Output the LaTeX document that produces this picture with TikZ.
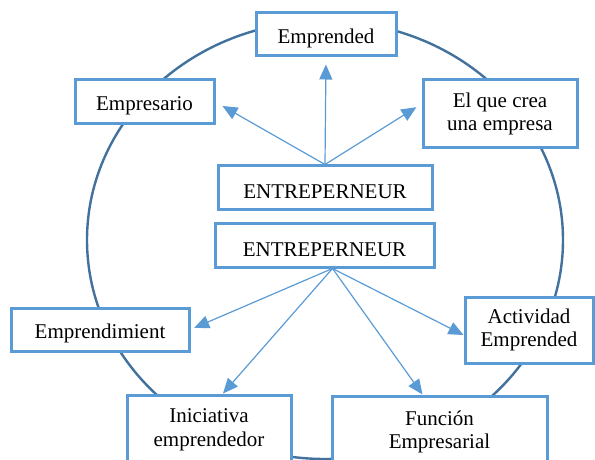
\documentclass[tikz,border=0pt]{standalone}
\usepackage{fontspec}
\setmainfont{Liberation Serif}
\usetikzlibrary{arrows.meta}
\definecolor{boxblue}{RGB}{91,155,213}
\definecolor{ringblue}{RGB}{65,113,156}

\begin{document}
\begin{tikzpicture}[x=0.5pt,y=-0.5pt,
    box/.style={draw=boxblue,line width=1.5pt,fill=white,align=center,inner sep=0pt,
      font=\fontsize{10.5}{11.8}\selectfont,execute at begin node={\rule{0pt}{11pt}}},
    link/.style={draw=boxblue,line width=0.6pt,-{Triangle[length=7.5pt,width=6.5pt]}}]
  \useasboundingbox (0,0) rectangle (595,460);
  \draw[ringblue,line width=1.2pt] (325,240) ellipse [x radius=119pt,y radius=109.5pt];
  % upper fan
  \node[box,minimum width=70pt,minimum height=21.5pt] (emprended) at (326,34.5) {Emprended};
  \node[box,minimum width=69.5pt,minimum height=22pt] (empresario) at (144.5,102) {Empresario};
  \node[box,minimum width=77pt,minimum height=34pt] (creaempresa) at (500,114) {El que crea\\una empresa};
  \node[box,minimum width=107pt,minimum height=22pt] (entreA) at (325,188) {ENTREPERNEUR};
  % lower fan
  \node[box,minimum width=109.5pt,minimum height=21.5pt] (entreB) at (324.5,245.5) {ENTREPERNEUR};
  \node[box,minimum width=89pt,minimum height=21.5pt] (emprendimiento) at (100,329.5) {Emprendimient};
  \node[box,minimum width=64pt,minimum height=33pt] (actividad) at (529,330) {Actividad\\Emprended};
  \node[box,minimum width=82pt,minimum height=35pt] (iniciativa) at (209,430) {Iniciativa\\emprendedor};
  \node[box,minimum width=107.5pt,minimum height=36pt] (funcion) at (439.5,432) {Función\\Empresarial};
  \draw[link,shorten >=3.5pt] (entreA.north) -- (emprended.south);
  \draw[link,shorten >=4pt] (entreA.north) -- (empresario.east);
  \draw[link,shorten >=3pt] (entreA.north) -- ([yshift=5pt]creaempresa.west);
  \coordinate (fork) at ([xshift=4pt]entreB.south);
  \draw[link,shorten >=2pt] (fork) -- (emprendimiento.east);
  \draw[link] (fork) -- ([xshift=7pt]iniciativa.north);
  \draw[link] (fork) -- ([xshift=-8.5pt]funcion.north);
  \draw[link] (fork) -- ([yshift=-2.5pt]actividad.west);
\end{tikzpicture}
\end{document}
